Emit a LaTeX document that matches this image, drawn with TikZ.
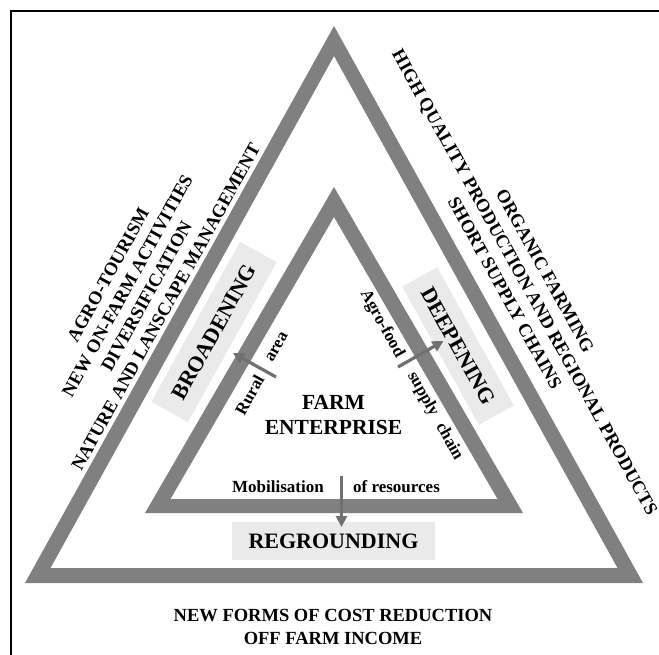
\documentclass[tikz,border=0pt]{standalone}
\usepackage{fontspec}
\setmainfont{Liberation Serif}
\usetikzlibrary{arrows.meta}
\definecolor{bandgray}{RGB}{128,128,128}
\definecolor{boxgray}{RGB}{234,234,234}
\definecolor{arrgray}{RGB}{112,112,112}
\begin{document}
\begin{tikzpicture}[x=1pt,y=-1pt,
  band/.style={fill=bandgray, even odd rule},
  labelbox/.style={fill=boxgray, inner sep=0pt, font=\fontsize{22}{26}\selectfont\bfseries},
  outertext/.style={inner sep=0pt, align=center, font=\fontsize{18.5}{23}\selectfont\bfseries},
  innertext/.style={inner sep=0pt, font=\fontsize{17}{20}\selectfont\bfseries},
  arr/.style={draw=arrgray, line width=3.2pt, -{Triangle[length=11pt,width=11pt]}}]
\useasboundingbox (0,0) rectangle (659,655);
\draw[line width=2.2pt] (11,655) -- (11,11) -- (659,11);
% triangles
\fill[band] (334,26) -- (25,583) -- (643,583) -- cycle (334,56) -- (50.5,568) -- (617.5,568) -- cycle;
\fill[band] (334,187) -- (145,513) -- (523,513) -- cycle (334,217) -- (170.5,499) -- (497.5,499) -- cycle;
% label boxes
\node[labelbox, minimum width=183pt, minimum height=42pt, rotate=61] (broad) at (214,332) {BROADENING};
\node[labelbox, minimum width=158pt, minimum height=40pt, rotate=-61] (deep) at (458,346) {DEEPENING};
\node[labelbox, minimum width=203pt, minimum height=38pt] (regr) at (333.5,541) {REGROUNDING};
% outer texts
\node[outertext, rotate=61, font=\fontsize{18.5}{22}\selectfont\bfseries] (lefttxt) at (137,291) {AGRO-TOURISM\\NEW ON-FARM ACTIVITIES\\DIVERSIFICATION\\NATURE AND LANSCAPE MANAGEMENT};
\node[outertext, rotate=-61] (righttxt) at (525,282) {ORGANIC FARMING\\HIGH QUALITY PRODUCTION AND REGIONAL PRODUCTS\\SHORT SUPPLY CHAINS};
\node[outertext] (bottxt) at (333,626.5) {NEW FORMS OF COST REDUCTION\\OFF FARM INCOME};
% centre
\node[inner sep=0pt, align=center, font=\fontsize{21.5}{25}\selectfont\bfseries] (farm) at (333.5,415) {FARM\\ENTERPRISE};
% inner labels
\node[innertext, anchor=base] (mob) at (278,492) {Mobilisation};
\node[innertext, anchor=base] (res) at (396.5,492) {of resources};
\node[innertext, rotate=61] (rural) at (249.5,395) {Rural};
\node[innertext, rotate=61] (area) at (277,347) {area};
\node[innertext, rotate=-61] (agro) at (382,324) {Agro-food};
\node[innertext, rotate=-61] (supply) at (435,416) {supply\hspace{0.6em}chain};
% arrows
\coordinate (mobS) at (341.5,476);
\coordinate (mobE) at (341.5,527);
\coordinate (brS) at (276,377);
\coordinate (brE) at (233,353);
\coordinate (dpS) at (398,367);
\coordinate (dpE) at (443.5,341);
\draw[arr] (mobS) -- (mobE);
\draw[arr] (brS) -- (brE);
\draw[arr] (dpS) -- (dpE);
\end{tikzpicture}
\end{document}
